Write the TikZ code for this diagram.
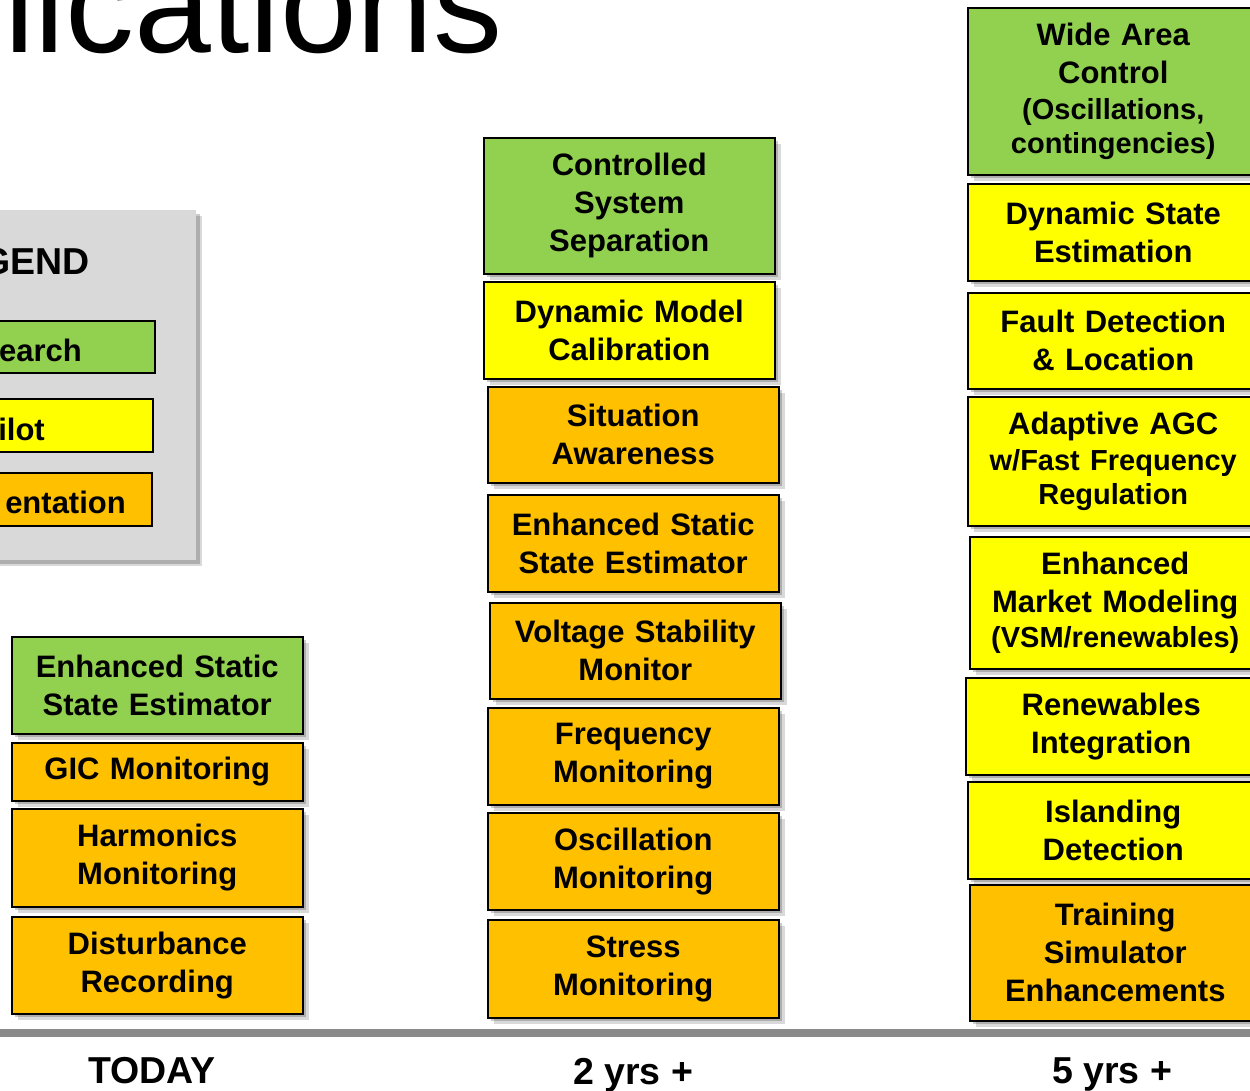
\documentclass[tikz,border=0pt]{standalone}
\usepackage{fontspec}
\setmainfont{Liberation Sans}
\usepackage{xcolor}
\usetikzlibrary{shadows}

\definecolor{resgreen}{HTML}{92D050}
\definecolor{pilotyellow}{HTML}{FFFF00}
\definecolor{implorange}{HTML}{FFC000}
\definecolor{legendgray}{HTML}{D9D9D9}
\definecolor{rulegray}{HTML}{8A8A8A}

\tikzset{
  softshadow/.style={drop shadow={shadow xshift=6pt,shadow yshift=-6pt,opacity=.15,fill=black},
                     drop shadow={shadow xshift=3.5pt,shadow yshift=-3.5pt,opacity=.2,fill=black}},
  appbox/.style={draw=black,line width=1.5pt,anchor=north west,align=center,
                 text width=280pt,inner xsep=5.5pt,inner ysep=0pt,minimum width=291pt,
                 font=\bfseries\fontsize{31}{38}\selectfont,softshadow},
  research/.style={appbox,fill=resgreen},
  pilot/.style={appbox,fill=pilotyellow},
  implement/.style={appbox,fill=implorange},
  keybox/.style={draw=black,line width=1.5pt},
  keytext/.style={anchor=base east,inner sep=0pt,font=\bfseries\fontsize{31}{38}\selectfont},
  horizon/.style={anchor=base,inner sep=0pt,font=\bfseries\fontsize{37.5}{40}\selectfont}
}
\newcommand{\smallline}[1]{{\fontsize{29}{35}\selectfont #1}}

\begin{document}
\begin{tikzpicture}[x=1pt,y=-1pt]
\useasboundingbox (0,0) rectangle (1250,1090);
\clip (0,0) rectangle (1250,1090);

\node[anchor=base west,inner sep=0pt,font=\fontsize{138}{138}\selectfont] (title) at (4,52) {lications};

% legend
\fill[legendgray,softshadow] (-20,210) rectangle (196,560);
\node[keytext,font=\bfseries\fontsize{37.5}{40}\selectfont] (legendhead) at (90,274) {GEND};
\draw[keybox,fill=resgreen] (-20,321) rectangle (155,373);
\node[keytext] (keyresearch) at (82,361) {earch};
\draw[keybox,fill=pilotyellow] (-20,399) rectangle (153,452);
\node[keytext] (keypilot) at (45,440) {ilot};
\draw[keybox,fill=implorange] (-20,473) rectangle (152,526);
\node[keytext] (keyimpl) at (126,513) {entation};

% today
\node[research,minimum height=97pt] (sseToday) at (11,636) {Enhanced Static\\State Estimator};
\node[implement,minimum height=58pt] (gic) at (11,742) {GIC Monitoring};
\node[implement,minimum height=98pt] (harmonics) at (11,808) {Harmonics\\Monitoring};
\node[implement,minimum height=97pt] (disturbance) at (11,916) {Disturbance\\Recording};

% 2 yrs
\node[research,minimum height=136pt] (separation) at (483,137) {Controlled\\System\\Separation};
\node[pilot,minimum height=97pt] (dynmodel) at (483,281) {Dynamic Model\\Calibration};
\node[implement,minimum height=96pt] (situation) at (487,386) {Situation\\Awareness};
\node[implement,minimum height=97pt] (sseTwo) at (487,494) {Enhanced Static\\State Estimator};
\node[implement,minimum height=96pt] (voltage) at (489,602) {Voltage Stability\\Monitor};
\node[implement,minimum height=97pt] (frequency) at (487,707) {Frequency\\Monitoring};
\node[implement,minimum height=97pt] (oscillation) at (487,812) {Oscillation\\Monitoring};
\node[implement,minimum height=98pt] (stress) at (487,919) {Stress\\Monitoring};

% 5 yrs
\node[research,minimum height=167pt] (widearea) at (967,7) {Wide Area\\Control\\[-2pt]\smallline{(Oscillations,}\\[-4pt]\smallline{contingencies)}};
\node[pilot,minimum height=97pt] (dynstate) at (967,183) {Dynamic State\\Estimation};
\node[pilot,minimum height=96pt] (fault) at (967,292) {Fault Detection\\\& Location};
\node[pilot,minimum height=129pt] (agc) at (967,396) {Adaptive AGC\\[-2pt]\smallline{w/Fast Frequency}\\[-4pt]\smallline{Regulation}};
\node[pilot,minimum height=132pt] (market) at (969,536) {Enhanced\\Market Modeling\\[-3pt]\smallline{(VSM/renewables)}};
\node[pilot,minimum height=97pt] (renewables) at (965,677) {Renewables\\Integration};
\node[pilot,minimum height=97pt] (islanding) at (967,781) {Islanding\\Detection};
\node[implement,minimum height=136pt] (training) at (969,884) {Training\\Simulator\\Enhancements};

% time axis
\fill[rulegray] (-5,1029) rectangle (1255,1037);
\node[horizon] (today) at (152,1083) {TODAY};
\node[horizon] (twoyrs) at (633,1084) {2 yrs +};
\node[horizon] (fiveyrs) at (1112,1083) {5 yrs +};
\end{tikzpicture}
\end{document}
